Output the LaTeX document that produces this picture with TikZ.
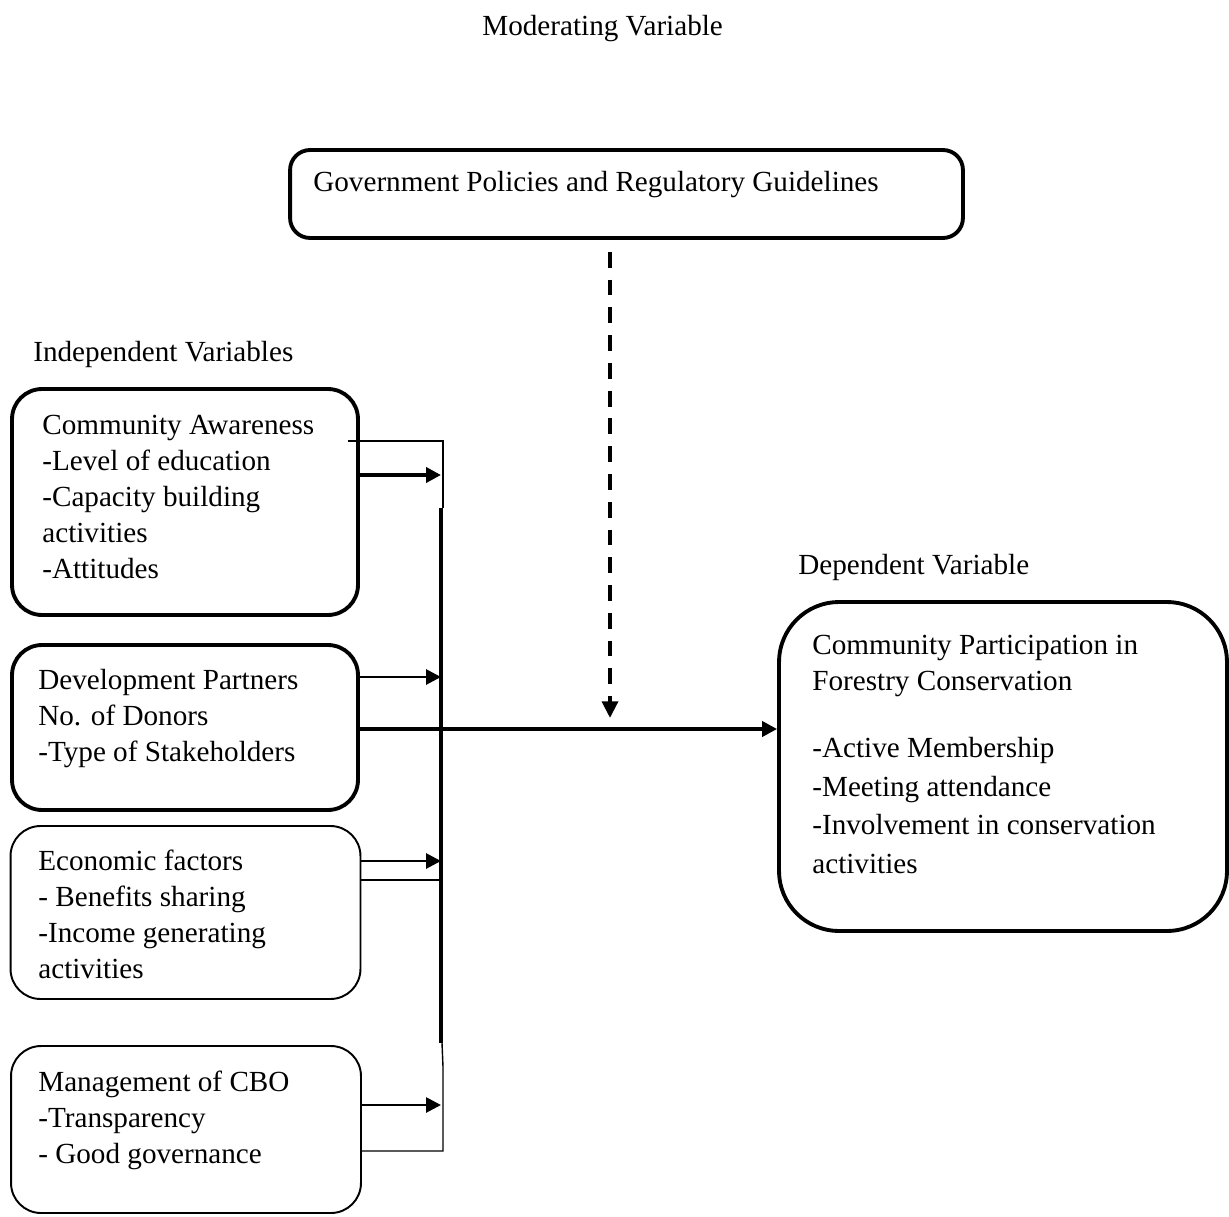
\documentclass[tikz,border=0pt]{standalone}
\usepackage{fontspec}
\setmainfont{Liberation Serif}
\usepackage{tikz}
\usetikzlibrary{
    arrows.meta, positioning, calc
}

\tikzset{
    boxThick/.style={draw, rounded corners=0.6cm, line width=2.2pt, inner sep=0pt},
    boxThin/.style={draw, rounded corners=0.6cm, line width=1.1pt, inner sep=0pt},
    txt/.style={font=\fontsize{16.6}{20.4}\selectfont, align=left, inner sep=0pt},
    arrThick/.style={line width=2.2pt, -{Triangle[length=8.5pt,width=8.5pt]}},
    arrMid/.style={line width=1.6pt, -{Triangle[length=8.5pt,width=8.5pt]}},
    thinLine/.style={line width=0.8pt},
    busLine/.style={line width=2pt},
    modArr/.style={line width=2.2pt, dash pattern=on 9pt off 6.8pt, shorten <=0.24cm,
        -{Triangle[length=9.5pt,width=9pt]}}
}

\begin{document}
\begin{tikzpicture}[x=0.02cm, y=-0.02cm]
    \useasboundingbox (0,0) rectangle (1229,1216);

    % --- Titles ---
    \node[txt, anchor=base west] (modTitle) at (482,36) {Moderating Variable};
    \node[txt, anchor=base west] (indTitle) at (33,361) {Independent Variables};
    \node[txt, anchor=base west] (depTitle) at (798,574) {Dependent Variable};

    % --- Moderating box ---
    \node[boxThick, rounded corners=0.4cm, minimum width=13.46cm, minimum height=1.76cm] (gov) at (626.5,194) {};
    \node[txt, anchor=base west] (govText) at (313,192) {Government Policies and Regulatory Guidelines};

    % --- Independent boxes ---
    \node[boxThick, minimum width=6.92cm, minimum height=4.52cm] (aware) at (185,502) {};
    \node[txt, anchor=north west] (awareText) at (42,415)
        {Community Awareness\\-Level of education\\-Capacity building\\activities\\-Attitudes};

    \node[boxThick, minimum width=6.92cm, minimum height=3.3cm] (partner) at (185,727.5) {};
    \node[txt, anchor=north west] (partnerText) at (38,669)
        {Development Partners\\No. of Donors\\-Type of Stakeholders};

    \node[boxThin, minimum width=7cm, minimum height=3.46cm] (econ) at (185.5,912.5) {};
    \node[txt, anchor=north west] (econText) at (38,850)
        {Economic factors\\- Benefits sharing\\-Income generating\\activities};

    \node[boxThin, minimum width=7cm, minimum height=3.34cm] (manage) at (186,1129.5) {};
    \node[txt, anchor=north west] (manageText) at (38,1071)
        {Management of CBO\\-Transparency\\- Good governance};

    % --- Dependent box ---
    \node[boxThick, rounded corners=1.2cm, minimum width=8.96cm, minimum height=6.58cm] (part) at (1003,766.5) {};
    \node[txt, anchor=north west] (partText) at (812,635)
        {Community Participation in\\Forestry Conservation\\[18pt]-Active Membership\\[1.5pt]-Meeting attendance\\[1.5pt]-Involvement in conservation\\[1.5pt]activities};

    % --- Bus points ---
    \coordinate (busTop) at (441,508);
    \coordinate (busBot) at (441,1043);
    \coordinate (inAware) at (441,475);
    \coordinate (inPartner) at (441,677);
    \coordinate (inEcon) at (441,861);
    \coordinate (inManage) at (441,1105);
    \coordinate (awareCorner) at (443,441);
    \coordinate (econJoin) at (441,880);
    \coordinate (manageCorner) at (443,1151);
    \coordinate (manageTop) at (443,1067);
    \coordinate (hub) at (610,729);
    \coordinate (modEnd) at (610,718);

    % --- Connectors ---
    \draw[busLine] (busTop) -- (busBot);
    \draw[thinLine] ([xshift=-0.24cm]aware.east |- awareCorner) -- (awareCorner) -- (awareCorner |- busTop);
    \draw[arrThick] (aware.east |- inAware) -- (inAware);
    \draw[arrMid] (partner.east |- inPartner) -- (inPartner);
    \draw[arrMid] (econ.east |- inEcon) -- (inEcon);
    \draw[thinLine] (econ.east |- econJoin) -- (econJoin);
    \draw[arrMid] (manage.east |- inManage) -- (inManage);
    \draw[thinLine] (manage.east |- manageCorner) -- (manageCorner) -- (manageTop) -- ([xshift=0.02cm]busBot);

    % main link and moderating arrow
    \draw[arrThick] (partner.east |- hub) -- (part.west |- hub);
    \draw[modArr] (gov.south -| modEnd) -- (modEnd);

\end{tikzpicture}
\end{document}
